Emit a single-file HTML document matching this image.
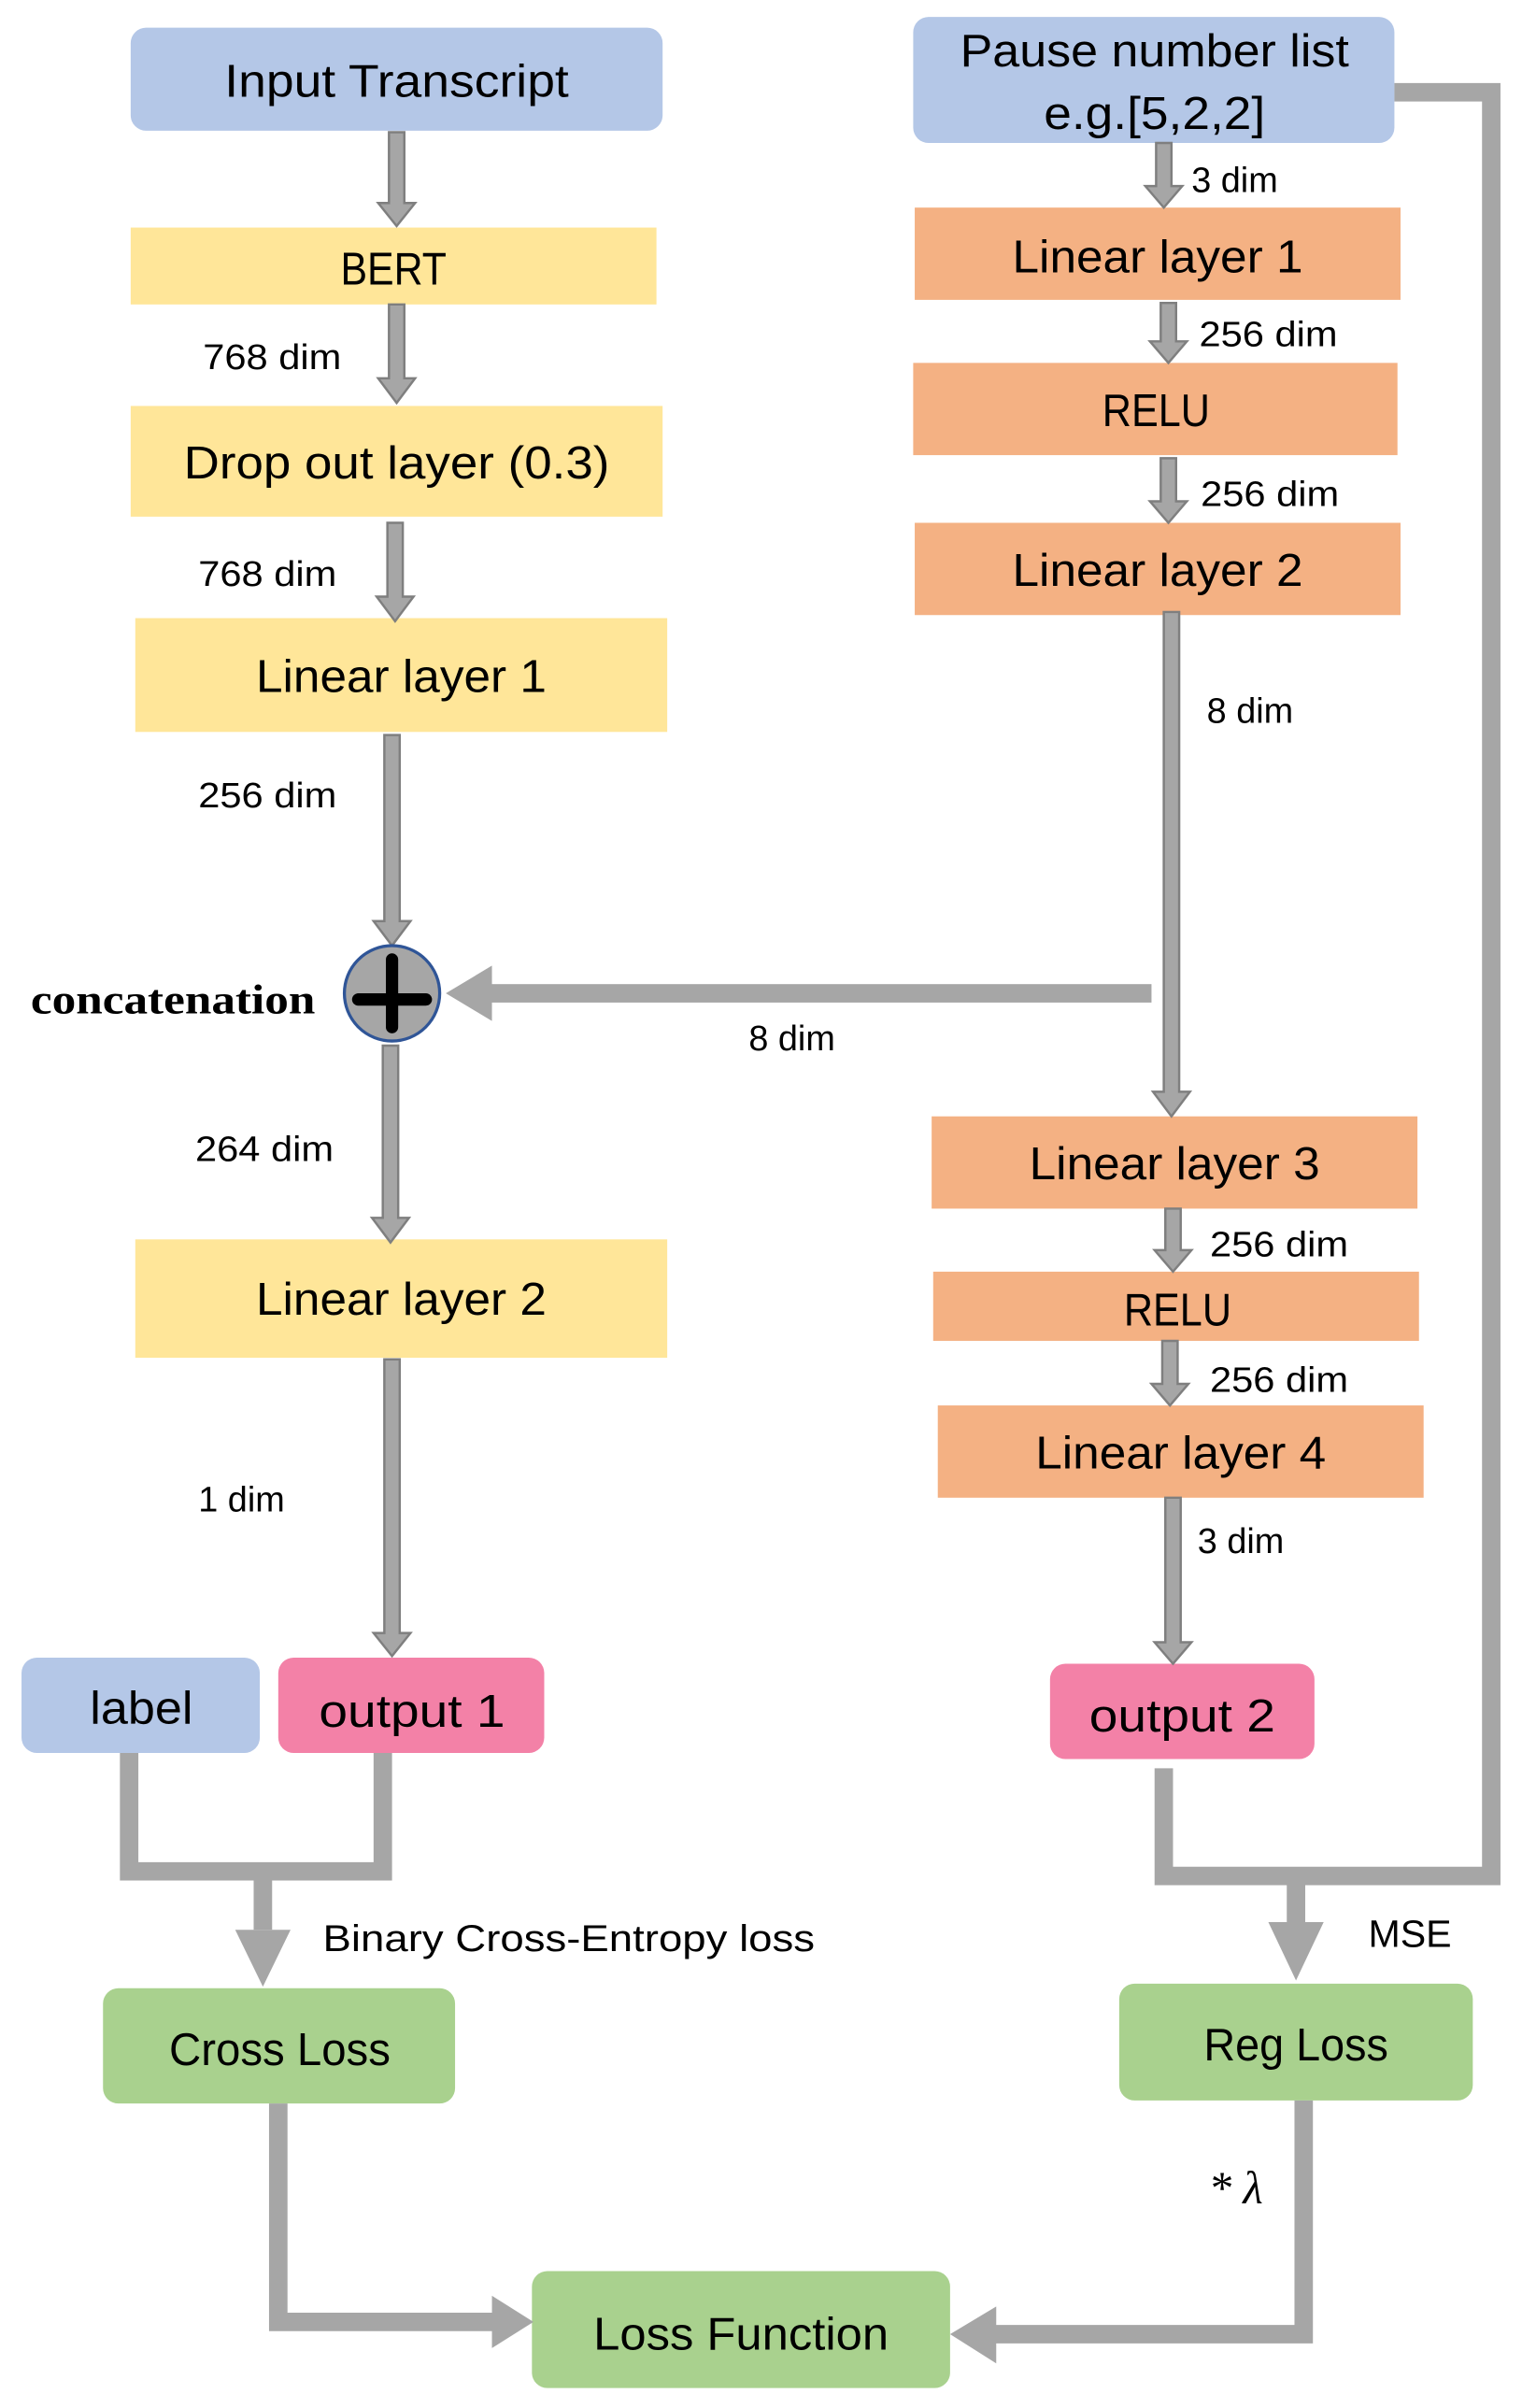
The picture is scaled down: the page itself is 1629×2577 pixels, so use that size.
<!DOCTYPE html>
<html><head><meta charset="utf-8"><style>
html,body{margin:0;padding:0;background:#fff;}
svg{display:block;}
text{font-family:"Liberation Sans",sans-serif;fill:#000;}
.b{font-size:30px;text-anchor:middle;}
.d{font-size:23px;}
.sa{fill:#a6a6a6;stroke:#7f7f7f;stroke-width:1.5;}
.ln{fill:none;stroke:#a6a6a6;stroke-width:12;}
.fa{fill:#a6a6a6;}
</style></head><body>
<svg width="1629" height="2577" viewBox="0 0 990 1566" preserveAspectRatio="none" xmlns="http://www.w3.org/2000/svg">
<rect x="85" y="18" width="346" height="67" rx="10" fill="#b4c7e7"/>
<text class="b" x="258" y="63" textLength="224" lengthAdjust="spacingAndGlyphs">Input Transcript</text>
<rect x="85" y="148" width="342" height="50" fill="#ffe699"/>
<text class="b" x="256" y="185" textLength="69" lengthAdjust="spacingAndGlyphs">BERT</text>
<rect x="85" y="264" width="346" height="72" fill="#ffe699"/>
<text class="b" x="258" y="311" textLength="277" lengthAdjust="spacingAndGlyphs">Drop out layer (0.3)</text>
<rect x="88" y="402" width="346" height="74" fill="#ffe699"/>
<text class="b" x="261" y="450" textLength="189" lengthAdjust="spacingAndGlyphs">Linear layer 1</text>
<rect x="88" y="806" width="346" height="77" fill="#ffe699"/>
<text class="b" x="261" y="855" textLength="189" lengthAdjust="spacingAndGlyphs">Linear layer 2</text>
<rect x="14" y="1078" width="155" height="62" rx="10" fill="#b4c7e7"/>
<text class="b" x="92" y="1121" textLength="67" lengthAdjust="spacingAndGlyphs">label</text>
<rect x="181" y="1078" width="173" height="62" rx="10" fill="#f381a7"/>
<text class="b" x="268" y="1123" textLength="121" lengthAdjust="spacingAndGlyphs">output 1</text>
<rect x="67" y="1293" width="229" height="75" rx="10" fill="#a9d18e"/>
<text class="b" x="182" y="1343" textLength="144" lengthAdjust="spacingAndGlyphs">Cross Loss</text>
<rect x="346" y="1477" width="272" height="76" rx="10" fill="#a9d18e"/>
<text class="b" x="482" y="1528" textLength="192" lengthAdjust="spacingAndGlyphs">Loss Function</text>
<rect x="728" y="1290" width="230" height="76" rx="10" fill="#a9d18e"/>
<text class="b" x="843" y="1340" textLength="120" lengthAdjust="spacingAndGlyphs">Reg Loss</text>
<rect x="683" y="1082" width="172" height="62" rx="10" fill="#f381a7"/>
<text class="b" x="769" y="1126" textLength="121" lengthAdjust="spacingAndGlyphs">output 2</text>
<rect x="594" y="11" width="313" height="82" rx="10" fill="#b4c7e7"/>
<text class="b" x="751" y="43" textLength="253" lengthAdjust="spacingAndGlyphs">Pause number list</text>
<text class="b" x="751" y="84" textLength="144" lengthAdjust="spacingAndGlyphs">e.g.[5,2,2]</text>
<rect x="595" y="135" width="316" height="60" fill="#f4b183"/>
<text class="b" x="753" y="177" textLength="189" lengthAdjust="spacingAndGlyphs">Linear layer 1</text>
<rect x="594" y="236" width="315" height="60" fill="#f4b183"/>
<text class="b" x="752" y="277" textLength="70" lengthAdjust="spacingAndGlyphs">RELU</text>
<rect x="595" y="340" width="316" height="60" fill="#f4b183"/>
<text class="b" x="753" y="381" textLength="189" lengthAdjust="spacingAndGlyphs">Linear layer 2</text>
<rect x="606" y="726" width="316" height="60" fill="#f4b183"/>
<text class="b" x="764" y="767" textLength="189" lengthAdjust="spacingAndGlyphs">Linear layer 3</text>
<rect x="607" y="827" width="316" height="45" fill="#f4b183"/>
<text class="b" x="766" y="862" textLength="70" lengthAdjust="spacingAndGlyphs">RELU</text>
<rect x="610" y="914" width="316" height="60" fill="#f4b183"/>
<text class="b" x="768" y="955" textLength="189" lengthAdjust="spacingAndGlyphs">Linear layer 4</text>

<polygon class="sa" points="253,86 263,86 263,132 270,132 258,147 246,132 253,132"/>
<polygon class="sa" points="253,198 263,198 263,246 270,246 258,262 246,246 253,246"/>
<polygon class="sa" points="252,340 262,340 262,388 269,388 257,404 245,388 252,388"/>
<polygon class="sa" points="250,478 260,478 260,599 267,599 255,615 243,599 250,599"/>
<polygon class="sa" points="249,680 259,680 259,792 266,792 254,808 242,792 249,792"/>
<polygon class="sa" points="250,884 260,884 260,1062 267,1062 255,1077 243,1062 250,1062"/>
<polygon class="sa" points="752,93 762,93 762,121 769,121 757,135 745,121 752,121"/>
<polygon class="sa" points="755,197 765,197 765,222 772,222 760,236 748,222 755,222"/>
<polygon class="sa" points="755,298 765,298 765,326 772,326 760,340 748,326 755,326"/>
<polygon class="sa" points="757,398 767,398 767,710 774,710 762,726 750,710 757,710"/>
<polygon class="sa" points="758,786 768,786 768,813 775,813 763,827 751,813 758,813"/>
<polygon class="sa" points="756,872 766,872 766,900 773,900 761,914 749,900 756,900"/>
<polygon class="sa" points="758,974 768,974 768,1068 775,1068 763,1082 751,1068 758,1068"/>

<rect x="318" y="640" width="431" height="12" class="fa"/>
<polygon class="fa" points="290,646 320,628 320,664"/>
<circle cx="255" cy="646" r="31" fill="#a6a6a6" stroke="#2f5597" stroke-width="2"/>
<line x1="255" y1="624" x2="255" y2="668" stroke="#000" stroke-width="8" stroke-linecap="round"/>
<line x1="233" y1="650" x2="277" y2="650" stroke="#000" stroke-width="8" stroke-linecap="round"/>
<text x="20" y="659" style="font-family:'Liberation Serif',serif;font-weight:bold;font-size:27px;" textLength="185" lengthAdjust="spacingAndGlyphs">concatenation</text>

<polyline class="ln" points="84,1140 84,1217 249,1217 249,1140"/>
<rect x="165" y="1217" width="12" height="38" class="fa"/>
<polygon class="fa" points="153,1255 189,1255 171,1292"/>
<polyline class="ln" points="181,1368 181,1510 322,1510"/>
<polygon class="fa" points="320,1493 347,1510 320,1527"/>
<polyline class="ln" points="848,1366 848,1518 646,1518"/>
<polygon class="fa" points="648,1500 618,1518 648,1537"/>
<polyline class="ln" points="757,1150 757,1220 970,1220 970,60 907,60"/>
<rect x="837" y="1220" width="12" height="32" class="fa"/>
<polygon class="fa" points="825,1250 861,1250 843,1288"/>

<text class="d" x="132" y="240" textLength="90" lengthAdjust="spacingAndGlyphs">768 dim</text>
<text class="d" x="129" y="381" textLength="90" lengthAdjust="spacingAndGlyphs">768 dim</text>
<text class="d" x="129" y="525" textLength="90" lengthAdjust="spacingAndGlyphs">256 dim</text>
<text class="d" x="487" y="683">8 dim</text>
<text class="d" x="127" y="755" textLength="90" lengthAdjust="spacingAndGlyphs">264 dim</text>
<text class="d" x="129" y="983">1 dim</text>
<text class="d" x="775" y="125">3 dim</text>
<text class="d" x="780" y="225" textLength="90" lengthAdjust="spacingAndGlyphs">256 dim</text>
<text class="d" x="781" y="329" textLength="90" lengthAdjust="spacingAndGlyphs">256 dim</text>
<text class="d" x="785" y="470">8 dim</text>
<text class="d" x="787" y="817" textLength="90" lengthAdjust="spacingAndGlyphs">256 dim</text>
<text class="d" x="787" y="905" textLength="90" lengthAdjust="spacingAndGlyphs">256 dim</text>
<text class="d" x="779" y="1010">3 dim</text>
<text class="d" x="210" y="1269" style="font-size:24px" textLength="320" lengthAdjust="spacingAndGlyphs">Binary Cross-Entropy loss</text>
<text class="d" x="890" y="1266" style="font-size:25px">MSE</text>
<text x="786" y="1433" style="font-family:'Liberation Serif',serif;font-size:30px;font-style:italic;">* λ</text>
</svg>
</body></html>
